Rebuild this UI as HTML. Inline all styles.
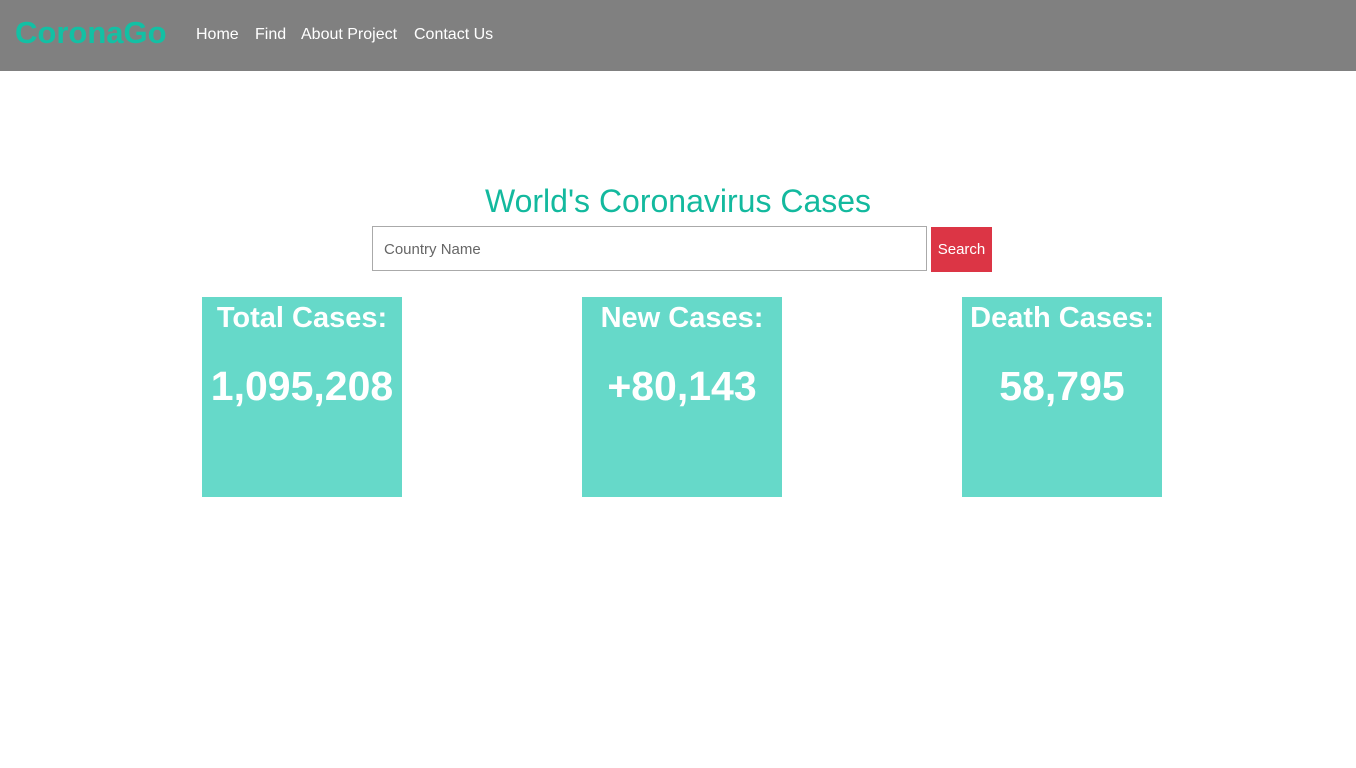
<!DOCTYPE html>
<html><head><meta charset="utf-8"><style>
body{margin:0;width:1356px;height:768px;background:#fff;font-family:"Liberation Sans",sans-serif;position:relative;overflow:hidden}
.nav{position:absolute;left:0;top:0;width:1356px;height:71px;background:#808080}
.logo{position:absolute;left:15px;top:15px;font-size:31px;font-weight:bold;color:#13c0a4}
.link{position:absolute;top:26px;font-size:16px;color:#fff}
h1{position:absolute;left:0;width:1356px;top:183px;margin:0;text-align:center;font-size:32px;font-weight:normal;color:#13b99e}
.inp{position:absolute;left:372px;top:226px;width:553px;height:43px;border:1px solid #aaa;box-sizing:content-box}
.inp span{position:absolute;left:11px;top:14px;font-size:15px;color:#666}
.btn{position:absolute;left:931px;top:227px;width:61px;height:45px;background:#dc3545;color:#fff;font-size:15px;text-align:center;line-height:45px}
.card{position:absolute;top:297px;width:200px;height:200px;background:#66d9c9;color:#fff;font-weight:bold;text-align:center}
.card .t{position:absolute;left:0;width:200px;top:5px;font-size:29px;white-space:nowrap}
.card .v{position:absolute;left:0;width:200px;top:66px;font-size:41px;white-space:nowrap}
</style></head><body>
<div class="nav">
<div class="logo">CoronaGo</div>
<div class="link" style="left:196px">Home</div>
<div class="link" style="left:255px">Find</div>
<div class="link" style="left:301px">About Project</div>
<div class="link" style="left:414px">Contact Us</div>
</div>
<h1>World's Coronavirus Cases</h1>
<div class="inp"><span>Country Name</span></div>
<div class="btn">Search</div>
<div class="card" style="left:202px"><div class="t">Total Cases:</div><div class="v">1,095,208</div></div>
<div class="card" style="left:582px"><div class="t">New Cases:</div><div class="v">+80,143</div></div>
<div class="card" style="left:962px"><div class="t">Death Cases:</div><div class="v">58,795</div></div>
</body></html>
